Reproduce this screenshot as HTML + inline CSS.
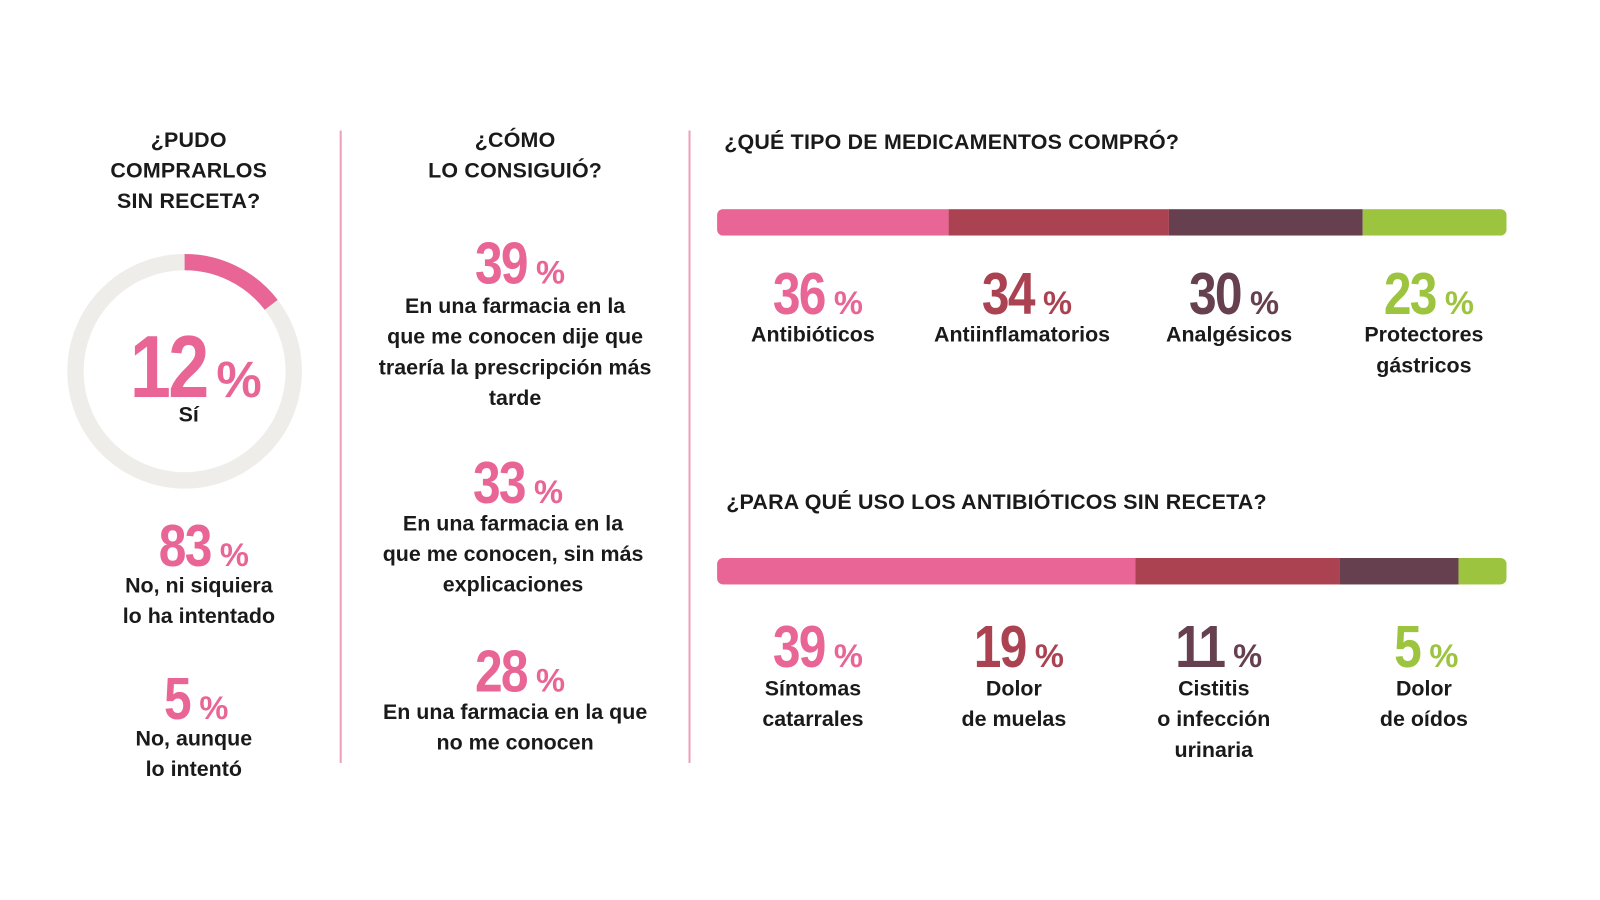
<!DOCTYPE html>
<html><head><meta charset="utf-8"><style>
body{margin:0;width:1600px;height:900px;background:#fff;overflow:hidden;font-family:"Liberation Sans",sans-serif;color:#1a1a1a}
#w{position:absolute;left:0;top:0;width:1570px;height:882px;transform:scale(1.02);transform-origin:0 0}
.a{position:absolute;text-align:center;font-weight:bold}
.h{font-size:21px;line-height:30px;letter-spacing:0.2px}
.t{font-size:21px;line-height:30px}
.n{font-size:58px;line-height:52px;letter-spacing:-2px}
.n b{display:inline-block;transform:scaleX(.84);transform-origin:right center}
.n span{font-size:32px;letter-spacing:0;margin-left:9px}
.pk{color:#e86595}.rd{color:#ab4252}.pl{color:#66404f}.gr{color:#9cc43f}
.v{position:absolute;width:2px;background:#ef9fbb;top:128px;height:620px}
.bar{position:absolute;left:703px;width:774px;height:26px;border-radius:6px;overflow:hidden;display:flex}
.bar div{height:100%}
</style></head><body><div id="w">
<div class="v" style="left:333px"></div><div class="v" style="left:675px"></div>

<div class="a h" style="left:60px;width:250px;top:123px">¿PUDO<br>COMPRARLOS<br>SIN RECETA?</div>
<svg style="position:absolute;left:0;top:0" width="400" height="500">
<circle cx="181" cy="364" r="107" fill="none" stroke="#eeede9" stroke-width="16"/>
<circle cx="181" cy="364" r="107" fill="none" stroke="#e86595" stroke-width="16" stroke-dasharray="98 700" transform="rotate(-90 181 364)"/>
</svg>
<div class="a n pk" style="left:60px;width:250px;top:322px;font-size:86px;line-height:76px;letter-spacing:-3px"><b>12</b><span style="font-size:50px">%</span></div>
<div class="a t" style="left:60px;width:250px;top:392px">Sí</div>
<div class="a n pk" style="left:70px;width:250px;top:510px"><b>83</b><span>%</span></div>
<div class="a t" style="left:70px;width:250px;top:560px">No, ni siquiera<br>lo ha intentado</div>
<div class="a n pk" style="left:65px;width:250px;top:660px"><b>5</b><span>%</span></div>
<div class="a t" style="left:65px;width:250px;top:710px">No, aunque<br>lo intentó</div>

<div class="a h" style="left:355px;width:300px;top:123px">¿CÓMO<br>LO CONSIGUIÓ?</div>
<div class="a n pk" style="left:355px;width:300px;top:233px"><b>39</b><span>%</span></div>
<div class="a t" style="left:355px;width:300px;top:286px">En una farmacia en la<br>que me conocen dije que<br>traería la prescripción más<br>tarde</div>
<div class="a n pk" style="left:353px;width:300px;top:448px"><b>33</b><span>%</span></div>
<div class="a t" style="left:353px;width:300px;top:499px">En una farmacia en la<br>que me conocen, sin más<br>explicaciones</div>
<div class="a n pk" style="left:355px;width:300px;top:633px"><b>28</b><span>%</span></div>
<div class="a t" style="left:355px;width:300px;top:684px">En una farmacia en la que<br>no me conocen</div>

<div class="a h" style="left:710px;top:125px;text-align:left">¿QUÉ TIPO DE MEDICAMENTOS COMPRÓ?</div>
<div class="bar" style="top:205px"><div style="width:227px;background:#e86595"></div><div style="width:216px;background:#ab4252"></div><div style="width:190px;background:#66404f"></div><div style="flex:1;background:#9cc43f"></div></div>
<div class="a n pk" style="left:697px;width:200px;top:263px"><b>36</b><span>%</span></div>
<div class="a t" style="left:697px;width:200px;top:314px">Antibióticos</div>
<div class="a n rd" style="left:902px;width:200px;top:263px"><b>34</b><span>%</span></div>
<div class="a t" style="left:902px;width:200px;top:314px">Antiinflamatorios</div>
<div class="a n pl" style="left:1105px;width:200px;top:263px"><b>30</b><span>%</span></div>
<div class="a t" style="left:1105px;width:200px;top:314px">Analgésicos</div>
<div class="a n gr" style="left:1296px;width:200px;top:263px"><b>23</b><span>%</span></div>
<div class="a t" style="left:1296px;width:200px;top:314px">Protectores<br>gástricos</div>

<div class="a h" style="left:712px;top:478px;text-align:left">¿PARA QUÉ USO LOS ANTIBIÓTICOS SIN RECETA?</div>
<div class="bar" style="top:547px"><div style="width:410px;background:#e86595"></div><div style="width:200px;background:#ab4252"></div><div style="width:117px;background:#66404f"></div><div style="flex:1;background:#9cc43f"></div></div>
<div class="a n pk" style="left:697px;width:200px;top:609px"><b>39</b><span>%</span></div>
<div class="a t" style="left:697px;width:200px;top:661px">Síntomas<br>catarrales</div>
<div class="a n rd" style="left:894px;width:200px;top:609px"><b>19</b><span>%</span></div>
<div class="a t" style="left:894px;width:200px;top:661px">Dolor<br>de muelas</div>
<div class="a n pl" style="left:1090px;width:200px;top:609px"><b>11</b><span>%</span></div>
<div class="a t" style="left:1090px;width:200px;top:661px">Cistitis<br>o infección<br>urinaria</div>
<div class="a n gr" style="left:1296px;width:200px;top:609px"><b>5</b><span>%</span></div>
<div class="a t" style="left:1296px;width:200px;top:661px">Dolor<br>de oídos</div>
</div></body></html>
